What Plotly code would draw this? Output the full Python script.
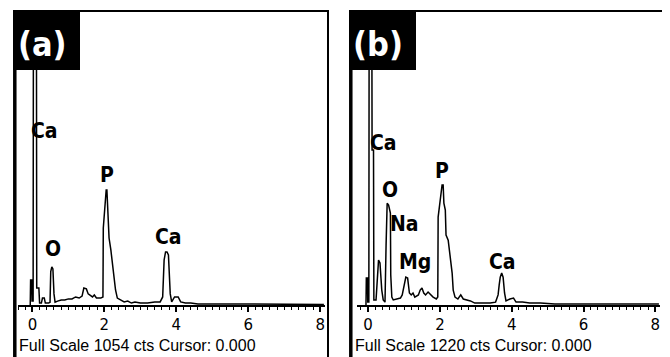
import plotly.graph_objects as go

# page has an 8px body margin: figure is sized to fit the 670x357 window
OFF = 8
W, H = 670 - OFF, 357 - OFF

# ---------------- data (keV, counts) ----------------
energy_a = [-0.08, -0.06, -0.05, -0.02, -0.01, 0.02, 0.03, 0.11, 0.12, 0.18, 0.2, 0.25, 0.28, 0.33,
            0.36, 0.45, 0.49, 0.51, 0.54, 0.57, 0.6, 0.63, 0.7, 0.8, 0.9, 1.0, 1.1, 1.2, 1.3, 1.38,
            1.43, 1.5, 1.55, 1.6, 1.67, 1.72, 1.78, 1.9, 1.96, 1.97, 2.02, 2.05, 2.07, 2.09, 2.13,
            2.18, 2.22, 2.27, 2.31, 2.36, 2.45, 2.55, 2.65, 2.75, 2.85, 3.0, 3.2, 3.4, 3.55, 3.62,
            3.66, 3.7, 3.74, 3.78, 3.83, 3.87, 3.95, 4.05, 4.12, 4.25, 4.4, 4.6, 5.0, 5.5, 6.0,
            6.5, 7.0, 7.5, 8.1]
counts_a = [0, 0, 90, 90, 14, 14, 1300, 1300, 61, 61, 7, 7, 25, 25,
            7, 7, 10, 120, 137, 130, 40, 10, 14, 18, 18, 22, 22, 29, 25, 32,
            61, 58, 40, 36, 29, 36, 25, 25, 29, 277, 378, 414, 414, 360, 241,
            198, 151, 101, 54, 25, 18, 11, 14, 7, 11, 7, 7, 11, 11, 29,
            162, 191, 191, 180, 40, 11, 29, 29, 11, 7, 7, 4, 4, 4, 2,
            4, 2, 4, 2]

energy_b = [-0.06, -0.05, -0.02, -0.01, 0.02, 0.03, 0.1, 0.11, 0.15, 0.16, 0.22, 0.26, 0.29, 0.33,
            0.35, 0.38, 0.42, 0.47, 0.5, 0.53, 0.57, 0.6, 0.62, 0.63, 0.66, 0.7, 0.8, 0.9, 0.95,
            1.0, 1.05, 1.1, 1.15, 1.2, 1.25, 1.3, 1.4, 1.45, 1.5, 1.55, 1.6, 1.67, 1.75, 1.81,
            1.9, 1.94, 1.95, 2.0, 2.06, 2.09, 2.11, 2.15, 2.17, 2.23, 2.28, 2.34, 2.37, 2.42,
            2.5, 2.58, 2.65, 2.75, 2.85, 2.97, 3.2, 3.4, 3.55, 3.62, 3.65, 3.68, 3.72, 3.76,
            3.8, 3.84, 3.95, 4.05, 4.12, 4.3, 4.5, 4.8, 5.2, 6.0, 7.0, 8.1]
counts_b = [0, 112, 112, 12, 12, 1500, 1500, 645, 645, 21, 21, 104, 187, 175,
            116, 62, 21, 12, 250, 424, 416, 383, 383, 125, 33, 21, 25, 29, 42,
            83, 116, 112, 50, 42, 50, 33, 42, 62, 71, 50, 42, 54, 42, 33,
            25, 33, 366, 424, 500, 500, 424, 395, 291, 270, 216, 133, 62, 33,
            25, 42, 25, 21, 17, 8, 8, 8, 12, 42, 83, 116, 133, 116,
            50, 17, 25, 29, 12, 12, 8, 8, 4, 4, 4, 4]

full_scale = [1054, 1220]
panel_tags = ["(a)", "(b)"]
xticks = [0, 2, 4, 6, 8]

labels_a = [("Ca", 0.33, 626), ("O", 0.57, 202), ("P", 2.07, 468), ("Ca", 3.77, 245)]
labels_b = [("Ca", 0.42, 674), ("O", 0.61, 478), ("Na", 1.0, 337), ("Mg", 1.31, 179),
            ("P", 2.06, 557), ("Ca", 3.73, 179)]

COND = "DejaVu Sans Condensed, Roboto, sans-serif"

# ---------------- helpers (window pixels -> paper) ----------------
def px(x):
    return (x - OFF) / W

def py(y):
    return 1 - (y - OFF) / H

fig = go.Figure()
fig.add_trace(go.Scatter(x=energy_a, y=counts_a, mode="lines", xaxis="x", yaxis="y",
                         line=dict(color="black", width=1.5), showlegend=False, hoverinfo="skip"))
fig.add_trace(go.Scatter(x=energy_b, y=counts_b, mode="lines", xaxis="x2", yaxis="y2",
                         line=dict(color="black", width=1.5), showlegend=False, hoverinfo="skip"))

tickfont = dict(family="DejaVu Sans", size=15, color="black")
common_x = dict(showline=True, linecolor="black", linewidth=2, ticks="outside", ticklen=5,
                tickwidth=1.5, tickcolor="black", tickvals=xticks, ticktext=[str(v) for v in xticks],
                showgrid=False, zeroline=False, tickfont=tickfont,
                minor=dict(dtick=0.2, tick0=0, ticks="outside", ticklen=3, tickwidth=1, tickcolor="black"))
ydom = [py(305), py(12)]

fig.update_layout(
    width=W, height=H, margin=dict(l=0, r=0, t=0, b=0),
    paper_bgcolor="white", plot_bgcolor="white",
    xaxis=dict(domain=[px(18), px(325)], range=[-0.40, 8.13], anchor="y", **common_x),
    yaxis=dict(domain=ydom, range=[0, full_scale[0]], visible=False, anchor="x"),
    xaxis2=dict(domain=[px(357), px(660)], range=[-0.31, 8.13], anchor="y2", **common_x),
    yaxis2=dict(domain=ydom, range=[0, full_scale[1]], visible=False, anchor="x2"),
)

shapes = []
ann = []
panels = [(13, 328, "x", "y"), (349, 664, "x2", "y2")]
for i, (L, R, xr, yr) in enumerate(panels):
    # frame
    shapes.append(dict(type="line", xref="paper", yref="paper", x0=px(L + 1.8), x1=px(L + 1.8),
                       y0=py(10), y1=py(H + OFF + 5), line=dict(color="black", width=3.5), layer="above"))
    shapes.append(dict(type="line", xref="paper", yref="paper", x0=px(L), x1=px(R + 1),
                       y0=py(11), y1=py(11), line=dict(color="black", width=2), layer="above"))
    shapes.append(dict(type="line", xref="paper", yref="paper", x0=px(R), x1=px(R),
                       y0=py(10), y1=py(H + OFF + 5), line=dict(color="black", width=2), layer="above"))
    # black tag box
    shapes.append(dict(type="rect", xref="paper", yref="paper", x0=px(L), x1=px(L + 67),
                       y0=py(70), y1=py(10), fillcolor="black", line=dict(width=0), layer="above"))
    ann.append(dict(text=f"<b>{panel_tags[i]}</b>", xref="paper", yref="paper", x=px(L + 29), y=py(44),
                    showarrow=False, xanchor="center", yanchor="middle",
                    font=dict(family=COND, size=34, color="white")))
    ann.append(dict(text=f"Full Scale {full_scale[i]} cts Cursor: 0.000", xref="paper", yref="paper",
                    x=px(L + 4), y=py(345), showarrow=False, xanchor="left", yanchor="middle",
                    font=dict(family="Liberation Sans, Arial, sans-serif", size=16, color="black")))
    labs = labels_a if i == 0 else labels_b
    for t, ex, cy in labs:
        ann.append(dict(text=f"<b>{t}</b>", xref=xr, yref=yr, x=ex, y=cy, showarrow=False,
                        xanchor="center", yanchor="middle",
                        font=dict(family=COND, size=21, color="black")))

fig.update_layout(shapes=shapes, annotations=ann)
fig.write_html("out.html")
